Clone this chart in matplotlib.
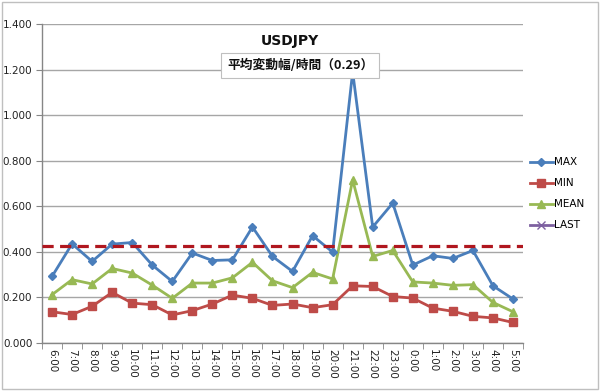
import matplotlib
matplotlib.use("Agg")
import matplotlib.pyplot as plt
from matplotlib.patches import Rectangle
from matplotlib.ticker import FormatStrFormatter, FixedLocator, NullFormatter

plt.rcParams['font.family'] = ['DejaVu Sans', 'Noto Sans CJK JP']

hours = ["6:00", "7:00", "8:00", "9:00", "10:00", "11:00", "12:00", "13:00", "14:00",
         "15:00", "16:00", "17:00", "18:00", "19:00", "20:00", "21:00", "22:00", "23:00",
         "0:00", "1:00", "2:00", "3:00", "4:00", "5:00"]
max_vals = [0.292, 0.435, 0.358, 0.434, 0.441, 0.342, 0.270, 0.395, 0.362, 0.365, 0.509, 0.380,
            0.314, 0.471, 0.399, 1.190, 0.509, 0.614, 0.342, 0.383, 0.371, 0.406, 0.251, 0.193]
min_vals = [0.137, 0.125, 0.161, 0.222, 0.175, 0.168, 0.123, 0.142, 0.171, 0.210, 0.196, 0.165,
            0.171, 0.155, 0.168, 0.251, 0.248, 0.204, 0.197, 0.153, 0.139, 0.117, 0.110, 0.090]
mean_vals = [0.212, 0.278, 0.259, 0.327, 0.307, 0.254, 0.196, 0.263, 0.263, 0.286, 0.354, 0.273,
             0.243, 0.310, 0.281, 0.716, 0.380, 0.406, 0.268, 0.263, 0.253, 0.256, 0.178, 0.137]
last_vals = []
threshold = 0.424
title = "USDJPY"
subtitle = "平均変動幅/時間（0.29）"

fig = plt.figure(figsize=(6.0, 3.91), dpi=100)
fig.patches.append(Rectangle((0.004, 0.006), 0.992, 0.99, transform=fig.transFigure,
                             fill=False, edgecolor='#BFBFBF', linewidth=1.0))
ax = fig.add_axes([0.07, 0.1228, 0.8017, 0.8158])

x = list(range(len(hours)))
ax.plot(x, max_vals, color='#4A7EBB', marker='D', markersize=4.5, linewidth=2,
        markeredgecolor='#4A7EBB', label='MAX', zorder=5)
ax.plot(x, min_vals, color='#BE4B48', marker='s', markersize=5.5, linewidth=2,
        markeredgecolor='#BE4B48', label='MIN', zorder=4)
ax.plot(x, mean_vals, color='#98B954', marker='^', markersize=5.5, linewidth=2,
        markeredgecolor='#98B954', label='MEAN', zorder=4)
ax.plot(x[:len(last_vals)], last_vals, color='#7D60A0', marker='x', markersize=5.5,
        linewidth=2, label='LAST')
ax.axhline(threshold, color='#B0171F', linestyle=(0, (3.5, 2)), linewidth=2.3, zorder=6)

ax.set_xlim(-0.5, len(hours) - 0.5)
ax.set_ylim(0, 1.4)
ax.set_yticks([0, 0.2, 0.4, 0.6, 0.8, 1.0, 1.2, 1.4])
ax.yaxis.set_major_formatter(FormatStrFormatter('%.3f'))
ax.grid(axis='y', color='#A6A6A6', linewidth=1.0)
ax.set_axisbelow(True)

ax.set_xticks(x)
ax.set_xticklabels(hours, rotation=-90, fontsize=7.5, color='#222222')
ax.tick_params(axis='x', length=0, pad=4)
ax.xaxis.set_minor_locator(FixedLocator([i - 0.5 for i in range(len(hours) + 1)]))
ax.xaxis.set_minor_formatter(NullFormatter())
ax.tick_params(axis='x', which='minor', length=4, color='#868686', direction='out')
ax.tick_params(axis='y', length=4, color='#868686', labelsize=7.5, labelcolor='#222222', pad=3)

for s in ['top', 'right']:
    ax.spines[s].set_visible(False)
for s in ['left', 'bottom']:
    ax.spines[s].set_color('#868686')
    ax.spines[s].set_linewidth(1.0)

fig.text(0.483, 0.895, title, fontsize=10, fontweight='bold', ha='center', va='center',
         color='#111111')
fig.text(0.5, 0.832, subtitle, fontsize=9.2, fontweight='bold', ha='center', va='center',
         family=['Noto Sans CJK JP', 'DejaVu Sans'], color='#111111',
         bbox=dict(boxstyle='square,pad=0.45', facecolor='white', edgecolor='#BFBFBF',
                   linewidth=0.8), zorder=10)

leg = ax.legend(loc='upper left', bbox_to_anchor=(1.005, 0.595), frameon=False,
                fontsize=7.5, handlelength=2.2, handletextpad=0.1, labelspacing=1.05,
                borderaxespad=0)

fig.savefig('out.png', dpi=100)
